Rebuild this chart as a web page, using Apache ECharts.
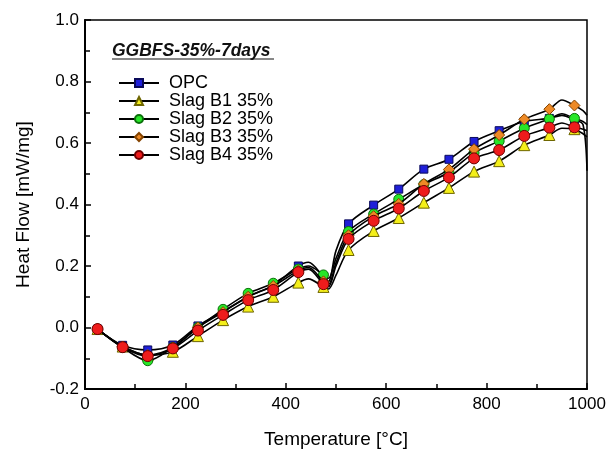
<!DOCTYPE html>
<html>
<head>
<meta charset="utf-8">
<script src="https://cdn.jsdelivr.net/npm/echarts@6/dist/echarts.min.js"></script>
<style>html,body{margin:0;padding:0;background:#fff;}#c{width:615px;height:463px;}</style>
</head>
<body>
<div id="c"></div>
<script>
// Temperatures of the curve points (markers sit at 25, 75, ..., 975)
const temps = [25, 75, 125, 175, 225, 275, 325, 375, 425, 445, 475, 485, 500, 525, 575, 625, 675, 725, 775, 825, 875, 925, 950, 975, 992, 1000];
const seriesNames = ['OPC', 'Slag B1 35%', 'Slag B2 35%', 'Slag B3 35%', 'Slag B4 35%'];
const opc = [-0.005, -0.058, -0.073, -0.057, 0.005, 0.052, 0.100, 0.138, 0.200, 0.212, 0.165, 0.150, 0.250, 0.337, 0.398, 0.450, 0.515, 0.547, 0.605, 0.640, 0.670, 0.680, 0.690, 0.675, 0.660, 0.510];
const slagB1 = [-0.005, -0.062, -0.090, -0.079, -0.028, 0.024, 0.068, 0.100, 0.146, 0.158, 0.132, 0.125, 0.170, 0.252, 0.314, 0.356, 0.406, 0.454, 0.507, 0.541, 0.593, 0.626, 0.648, 0.645, 0.630, 0.620];
const slagB2 = [-0.005, -0.065, -0.108, -0.065, 0.000, 0.059, 0.111, 0.144, 0.190, 0.200, 0.171, 0.160, 0.225, 0.312, 0.369, 0.417, 0.465, 0.505, 0.568, 0.606, 0.648, 0.678, 0.695, 0.680, 0.670, 0.660];
const slagB3 = [-0.005, -0.062, -0.090, -0.065, 0.000, 0.050, 0.100, 0.135, 0.185, 0.195, 0.150, 0.140, 0.210, 0.300, 0.362, 0.402, 0.467, 0.514, 0.580, 0.626, 0.677, 0.710, 0.740, 0.722, 0.705, 0.690];
const slagB4 = [-0.005, -0.064, -0.093, -0.068, -0.010, 0.041, 0.089, 0.122, 0.180, 0.190, 0.141, 0.133, 0.200, 0.288, 0.347, 0.387, 0.444, 0.488, 0.550, 0.577, 0.623, 0.650, 0.665, 0.651, 0.645, 0.640];
const yTicks = [-0.2, 0.0, 0.2, 0.4, 0.6, 0.8, 1.0];
const xTicks = [0, 200, 400, 600, 800, 1000];

const styles = [
  {symbol: 'rect', size: 8, color: '#1f1fd8', border: '#0a0a5a'},
  {symbol: 'triangle', size: 11, color: '#f4ef1a', border: '#6e6600'},
  {symbol: 'circle', size: 10, color: '#28e628', border: '#0a700a'},
  {symbol: 'diamond', size: 11, color: '#ee8a26', border: '#854400'},
  {symbol: 'circle', size: 11, color: '#ee1c1c', border: '#700000'}
];
const allValues = [opc, slagB1, slagB2, slagB3, slagB4];

const chart = echarts.init(document.getElementById('c'));
const font = '"Liberation Sans", Arial, sans-serif';
const series = allValues.map((vals, k) => ({
  name: seriesNames[k],
  type: 'line',
  smooth: 0.3,
  showAllSymbol: true,
  symbol: styles[k].symbol,
  symbolSize: styles[k].size,
  lineStyle: {color: '#000', width: 1.6},
  itemStyle: {color: styles[k].color, borderColor: styles[k].border, borderWidth: 1},
  emphasis: {disabled: true},
  data: temps.map((t, i) => ({
    value: [t, vals[i]],
    symbol: (t % 50 === 25) ? styles[k].symbol : 'none'
  })),
  z: 2 + k
}));

chart.setOption({
  animation: false,
  backgroundColor: '#fff',
  grid: {left: 85, right: 28, top: 20, bottom: 74, show: true, borderColor: '#000', borderWidth: 1.5, backgroundColor: 'transparent'},
  legend: {
    orient: 'vertical',
    left: 113,
    top: 69,
    itemWidth: 40,
    itemHeight: 10,
    itemGap: 0,
    data: seriesNames,
    textStyle: {fontFamily: font, fontSize: 18, color: '#000', lineHeight: 17.5, padding: [0, 0, 0, 5]}
  },
  graphic: [
    {type: 'text', left: 112, top: 42, style: {text: 'GGBFS-35%-7days', font: 'italic bold 17.5px "Liberation Sans", Arial, sans-serif', fill: '#111'}},
    {type: 'line', shape: {x1: 112, y1: 59, x2: 274, y2: 59}, style: {stroke: '#111', lineWidth: 1}}
  ],
  xAxis: {
    type: 'value', min: xTicks[0], max: xTicks[xTicks.length - 1], interval: 200,
    name: 'Temperature [°C]', nameLocation: 'middle', nameGap: 41,
    nameTextStyle: {fontFamily: font, fontSize: 19, color: '#000'},
    axisLine: {onZero: false, lineStyle: {color: '#000', width: 2}},
    axisTick: {inside: true, length: 6, lineStyle: {color: '#000', width: 1.5}},
    minorTick: {show: true, splitNumber: 2, length: 5, lineStyle: {color: '#000', width: 1.5}},
    splitLine: {show: false},
    axisLabel: {fontFamily: font, fontSize: 17, color: '#000', margin: 7, formatter: v => String(v)}
  },
  yAxis: {
    type: 'value', min: yTicks[0], max: yTicks[yTicks.length - 1], interval: 0.2,
    name: 'Heat Flow [mW/mg]', nameLocation: 'middle', nameGap: 52,
    nameTextStyle: {fontFamily: font, fontSize: 19, color: '#000'},
    axisLine: {onZero: false, lineStyle: {color: '#000', width: 2}},
    axisTick: {inside: true, length: 6, lineStyle: {color: '#000', width: 1.5}},
    minorTick: {show: true, splitNumber: 2, length: 5, lineStyle: {color: '#000', width: 1.5}},
    splitLine: {show: false},
    axisLabel: {fontFamily: font, fontSize: 17, color: '#000', margin: 6, formatter: v => v.toFixed(1)}
  },
  series: series
});
</script>
</body>
</html>
